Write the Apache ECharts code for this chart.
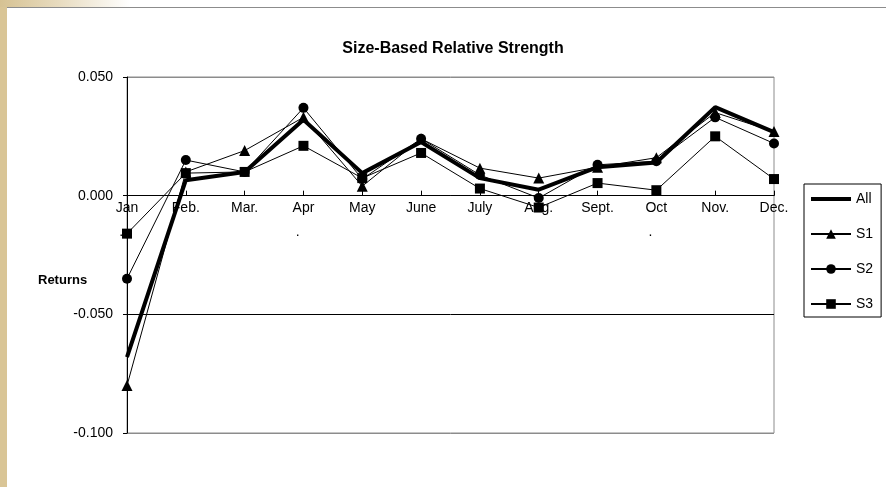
<!DOCTYPE html>
<html>
<head>
<meta charset="utf-8">
<script src="https://cdn.jsdelivr.net/npm/echarts@6.0.0/dist/echarts.min.js"></script>
<style>
    html, body { margin: 0; padding: 0; }
    body {
        width: 886px; height: 487px; overflow: hidden; position: relative;
        background: #d9c596;
    }
    #topStrip {
        position: absolute; left: 0; top: 0; width: 886px; height: 7px;
        background: linear-gradient(to right, #d6c293 0px, #e8dcc0 60px, #ffffff 130px);
    }
    #paper {
        position: absolute; left: 7px; top: 7px; width: 879px; height: 480px;
        background: #fff; border-top: 1px solid #8c8c8c; box-sizing: border-box;
    }
    #chartDiv { position: absolute; left: 0; top: 0; width: 886px; height: 487px; }
</style>
</head>
<body>
<div id="topStrip"></div>
<div id="paper"></div>
<div id="chartDiv"></div>
<script>
let months = ["Jan\n.   ", "Feb.", "Mar.", "Apr\n.   ", "May", "June", "July", "Aug.", "Sept.", "Oct\n.   ", "Nov.", "Dec."];
let yTicks = [-0.100, -0.050, 0.000, 0.050];

let allReturns = [-0.068, 0.0065, 0.010, 0.032, 0.0095, 0.0226, 0.0074, 0.0025, 0.012, 0.014, 0.0373, 0.0268];
let s1Returns = [-0.080, 0.010, 0.019, 0.033, 0.004, 0.024, 0.0116, 0.0074, 0.012, 0.016, 0.035, 0.027];
let s2Returns = [-0.035, 0.015, 0.010, 0.037, 0.007, 0.024, 0.0087, -0.001, 0.013, 0.0145, 0.033, 0.022];
let s3Returns = [-0.016, 0.0095, 0.010, 0.021, 0.0074, 0.018, 0.003, -0.005, 0.0053, 0.0023, 0.025, 0.007];

let chart = echarts.init(document.getElementById("chartDiv"));
let font = "Liberation Sans, Arial, sans-serif";

function thinSeries(name, data, symbol, size) {
    return {
        name: name,
        type: "line",
        data: data,
        symbol: symbol,
        symbolSize: size,
        clip: false,
        lineStyle: { color: "#000", width: 1 },
        itemStyle: { color: "#000" },
    };
}

let options = {
    animation: false,
    backgroundColor: "transparent",
    title: {
        text: "Size-Based Relative Strength",
        left: 448,
        top: 36,
        textAlign: "center",
        textStyle: { fontFamily: font, fontSize: 16, fontWeight: "bold", color: "#000" },
    },
    graphic: [
        {
            type: "text",
            left: 38,
            top: 274,
            style: { text: "Returns", fontFamily: font, fontSize: 13, fontWeight: "bold", fill: "#000" },
        },
    ],
    legend: {
        orient: "vertical",
        left: 804,
        top: 184,
        width: 79,
        padding: [8, 8, 6, 6],
        itemWidth: 40,
        itemHeight: 12,
        itemGap: 21,
        borderColor: "#000",
        borderWidth: 1,
        backgroundColor: "#fff",
        textStyle: { fontFamily: font, fontSize: 14, color: "#000" },
        data: [
            { name: "All", icon: "path://M0,0 H40 V4 H0 Z", itemStyle: { color: "#000" } },
            "S1",
            "S2",
            "S3",
        ],
    },
    grid: {
        left: 127,
        right: 112,
        top: 77,
        bottom: 54,
        show: true,
        borderColor: "#8c8c8c",
        borderWidth: 1,
    },
    xAxis: {
        type: "category",
        data: months,
        boundaryGap: false,
        axisLine: { onZero: true, lineStyle: { color: "#000", width: 1 } },
        axisTick: { show: true, inside: true, length: 5, lineStyle: { color: "#000" } },
        axisLabel: {
            interval: 0,
            // labels stay at the grid bottom, pull them up under the zero line
            margin: -237,
            fontFamily: font,
            fontSize: 14,
            lineHeight: 24,
            color: "#000",
        },
        splitLine: { show: false },
    },
    yAxis: {
        type: "value",
        min: yTicks[0],
        max: yTicks[yTicks.length - 1],
        interval: 0.05,
        axisLine: { show: true, lineStyle: { color: "#000", width: 1 } },
        axisTick: { show: true, length: 4, lineStyle: { color: "#000" } },
        axisLabel: {
            margin: 14,
            fontFamily: font,
            fontSize: 14,
            color: "#000",
            formatter: function (v) {
                return v.toFixed(3);
            },
        },
        splitLine: { show: true, lineStyle: { color: ["#8c8c8c", "#000", "#000", "#8c8c8c"], width: 1 } },
    },
    series: [
        {
            name: "All",
            type: "line",
            data: allReturns,
            symbol: "none",
            clip: false,
            lineStyle: { color: "#000", width: 4 },
            itemStyle: { color: "#000" },
        },
        thinSeries("S1", s1Returns, "triangle", 11),
        thinSeries("S2", s2Returns, "circle", 10),
        thinSeries("S3", s3Returns, "rect", 10),
    ],
};

chart.setOption(options);
</script>
</body>
</html>
